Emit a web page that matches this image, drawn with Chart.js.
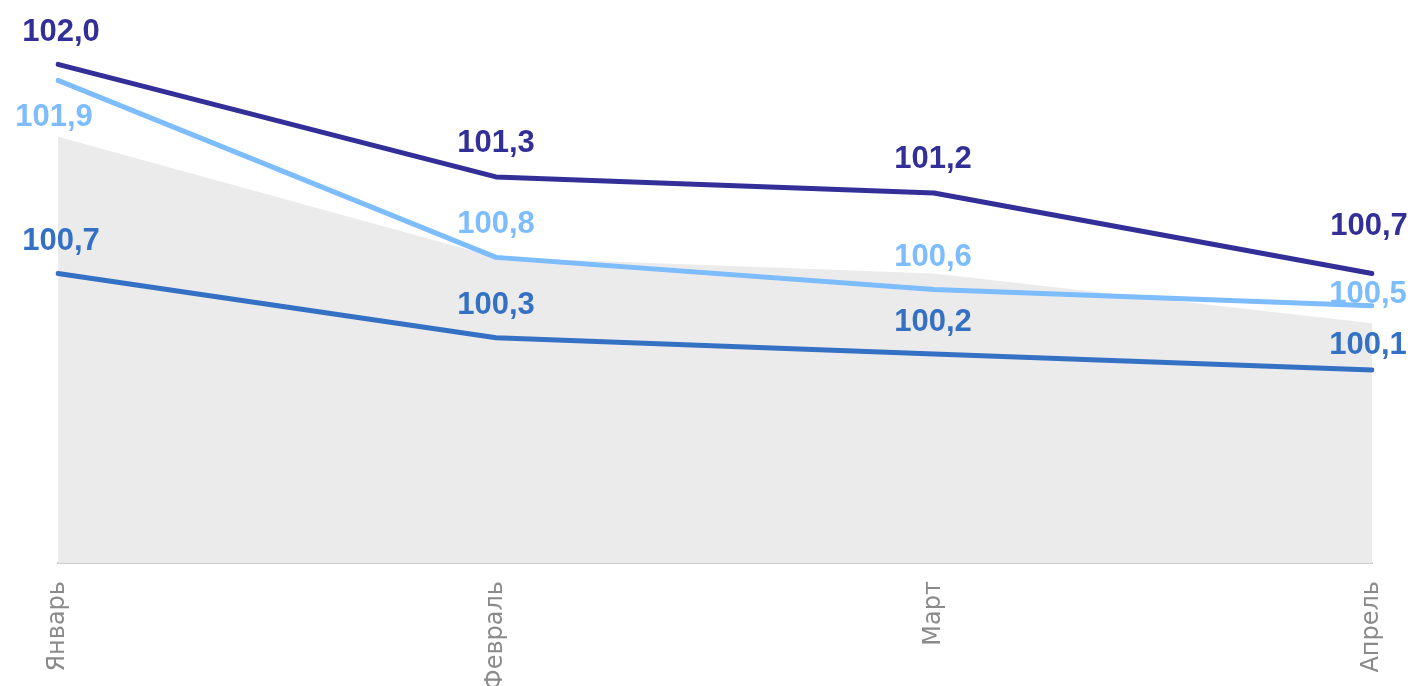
<!DOCTYPE html>
<html><head><meta charset="utf-8">
<script src="https://cdn.jsdelivr.net/npm/chart.js@4/dist/chart.umd.min.js"></script>
<style>html,body{margin:0;padding:0;background:#fff;overflow:hidden}</style>
</head><body>
<canvas id="c" width="1414" height="686" style="width:1414px;height:686px;display:block"></canvas>
<script>
const categories = ['Январь', 'Февраль', 'Март', 'Апрель'];
const seriesDark = [102.0, 101.3, 101.2, 100.7];
const seriesLight = [101.9, 100.8, 100.6, 100.5];
const seriesMedium = [100.7, 100.3, 100.2, 100.1];
const seriesArea = [101.55, 100.8, 100.7, 100.39];
const yMin = 98.9;
const yMax = 102.4;

const colors = { dark: '#332f98', light: '#7dbcfd', medium: '#3470c4', area: '#ebebeb' };
// label offsets (label visual centre relative to point), style only
const offsets = {
  dark:   [[3, -34], [0, -36], [-1, -36], [-3, -49]],
  light:  [[-4, 35], [0, -35], [-1, -35], [-4, -14]],
  medium: [[3, -34], [0, -35], [-1, -34], [-4, -27]]
};

const fmt = v => v.toFixed(1).replace('.', ',');

const labelPlugin = {
  id: 'valueLabels',
  afterDatasetsDraw(chart) {
    const ctx = chart.ctx;
    chart.data.datasets.forEach((ds, i) => {
      if (!ds.labelOffsets) return;
      const meta = chart.getDatasetMeta(i);
      meta.data.forEach((pt, j) => {
        const [dx, dy] = ds.labelOffsets[j];
        ctx.save();
        ctx.font = 'bold 31px "Liberation Sans", Arial, sans-serif';
        ctx.fillStyle = ds.borderColor;
        ctx.textAlign = 'center';
        ctx.textBaseline = 'alphabetic';
        ctx.fillText(fmt(ds.data[j]), pt.x + dx, pt.y + dy + 11);
        ctx.restore();
      });
    });
  }
};

const lineStyle = { borderWidth: 5, borderCapStyle: 'round', borderJoinStyle: 'round', pointRadius: 0, tension: 0, fill: false, order: 0 };

new Chart(document.getElementById('c'), {
  type: 'line',
  data: {
    labels: categories,
    datasets: [
      Object.assign({ data: seriesDark, borderColor: colors.dark, labelOffsets: offsets.dark }, lineStyle),
      Object.assign({ data: seriesLight, borderColor: colors.light, labelOffsets: offsets.light }, lineStyle),
      Object.assign({ data: seriesMedium, borderColor: colors.medium, labelOffsets: offsets.medium }, lineStyle),
      { data: seriesArea, backgroundColor: colors.area, borderWidth: 0, pointRadius: 0, fill: 'start', tension: 0, order: 10 }
    ]
  },
  options: {
    responsive: false,
    animation: false,
    layout: { padding: { left: 58, right: 42, top: 0, bottom: 0 } },
    plugins: { legend: { display: false }, tooltip: { enabled: false } },
    scales: {
      x: {
        offset: false,
        grid: { display: false, drawTicks: false },
        border: { display: true, color: '#cccccc', width: 2 },
        ticks: {
          minRotation: 90, maxRotation: 90, padding: 18,
          color: '#8a8a8a',
          font: { family: '"DejaVu Sans", sans-serif', size: 24 }
        },
        afterFit(scale) { scale.height = 123; scale.paddingLeft = 0; scale.paddingRight = 0; }
      },
      y: { display: false, min: yMin, max: yMax }
    }
  },
  plugins: [labelPlugin]
});
</script>
</body></html>
